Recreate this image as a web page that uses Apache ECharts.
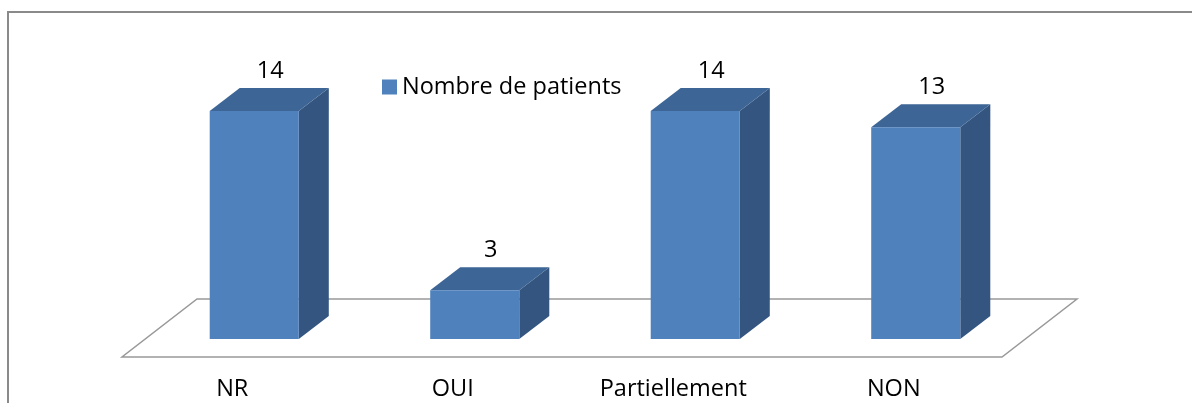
<!DOCTYPE html>
<html>
<head>
<meta charset="utf-8">
<script src="https://cdn.jsdelivr.net/npm/echarts@6/dist/echarts.min.js"></script>
<style>
  html, body { margin: 0; padding: 0; background: #fff; }
  #chart { width: 1192px; height: 403px; }
</style>
</head>
<body>
<div id="chart"></div>
<script>
const categories = ["NR", "OUI", "Partiellement", "NON"];
const patients = [14, 3, 14, 13];
const seriesName = "Nombre de patients";

const FONT = "Open Sans";
const FONT_SIZE = 23.5;
const FRONT = "#4F81BD";
const TOP = "#3D6595";
const SIDE = "#34557F";
// 3d depth of a bar, and of the floor it stands on
const DX = 30, DY = 23;
const FLOOR_DX = 75, FLOOR_DY = 58;
const BAR_RATIO = 0.404;

const chart = echarts.init(document.getElementById("chart"));

function renderFloor(params, api) {
  const cs = params.coordSys;
  const fy = cs.y + cs.height + 18;
  const fx0 = cs.x - 22, fx1 = cs.x + cs.width - 24;
  return {
    type: "polygon",
    shape: {
      points: [
        [fx0, fy], [fx1, fy],
        [fx1 + FLOOR_DX, fy - FLOOR_DY], [fx0 + FLOOR_DX, fy - FLOOR_DY]
      ]
    },
    style: { fill: "#fff", stroke: "#999", lineWidth: 1.5 }
  };
}

function renderBar(params, api) {
  const idx = api.value(0);
  const base = api.coord([idx, 0]);
  const top = api.coord([idx, api.value(1)]);
  const w = api.size([1, 0])[0] * BAR_RATIO;
  const x0 = base[0] - w / 2, x1 = base[0] + w / 2;
  const yb = base[1], yt = top[1];
  return {
    type: "group",
    children: [
      {
        type: "polygon",
        shape: { points: [[x1, yb], [x1 + DX, yb - DY], [x1 + DX, yt - DY], [x1, yt]] },
        style: { fill: SIDE }
      },
      {
        type: "polygon",
        shape: { points: [[x0, yt], [x1, yt], [x1 + DX, yt - DY], [x0 + DX, yt - DY]] },
        style: { fill: TOP }
      },
      {
        type: "rect",
        shape: { x: x0, y: yt, width: w, height: yb - yt },
        style: { fill: FRONT }
      },
      {
        type: "text",
        style: {
          text: String(api.value(1)),
          x: base[0] + DX / 2 + 1,
          y: yt - DY - 5,
          align: "center",
          verticalAlign: "bottom",
          fontFamily: FONT,
          fontSize: FONT_SIZE,
          fill: "#000"
        }
      }
    ]
  };
}

const options = {
  animation: false,
  graphic: [
    {
      type: "rect",
      shape: { x: 8, y: 12, width: 1400, height: 600 },
      style: { fill: "none", stroke: "#8a8a8a", lineWidth: 2 },
      silent: true
    }
  ],
  legend: {
    data: [{ name: seriesName, icon: "rect", itemStyle: { color: FRONT } }],
    left: 382,
    top: 75,
    padding: 0,
    itemWidth: 15,
    itemHeight: 15,
    textStyle: { fontFamily: FONT, fontSize: FONT_SIZE, color: "#000" }
  },
  grid: { left: 144, right: 166, top: 111, bottom: 64 },
  xAxis: {
    type: "category",
    data: categories,
    axisLine: { show: false },
    axisTick: { show: false },
    axisLabel: {
      margin: 38,
      padding: [0, 44, 0, 0],
      fontFamily: FONT,
      fontSize: FONT_SIZE,
      color: "#000"
    }
  },
  yAxis: {
    type: "value",
    min: 0,
    max: 14,
    show: false,
    splitLine: { show: false }
  },
  series: [
    {
      name: "floor",
      type: "custom",
      renderItem: renderFloor,
      data: [[0, 0]],
      z: 1,
      silent: true
    },
    {
      name: seriesName,
      type: "custom",
      renderItem: renderBar,
      itemStyle: { color: FRONT },
      data: patients.map((v, i) => [i, v]),
      z: 2
    }
  ]
};

chart.setOption(options);
</script>
</body>
</html>
